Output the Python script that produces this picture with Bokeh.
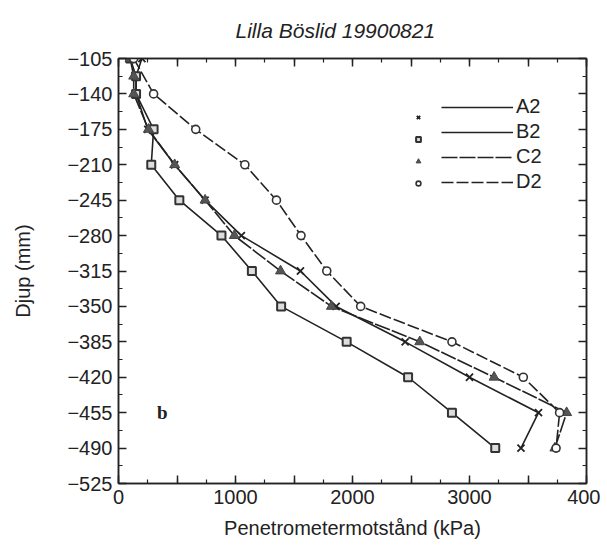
from bokeh.plotting import figure
from bokeh.models import (FixedTicker, LinearAxis, Legend, LegendItem, Label,
                          Range1d, Title)
from bokeh.embed import file_html
from bokeh.resources import INLINE

# ---- data (kPa vs depth mm) ----
depth_abc = [-105, -122.5, -140, -175, -210, -245, -280, -315, -350, -385, -420, -455, -490]
depth_d = [-105, -140, -175, -210, -245, -280, -315, -350, -385, -420, -455, -490]

a2 = [200, 150, 150, 250, 480, 740, 1050, 1555, 1860, 2450, 3000, 3590, 3440]
b2 = [100, 150, 150, 300, 280, 520, 880, 1140, 1390, 1950, 2475, 2850, 3220]
c2 = [100, 130, 130, 256, 480, 740, 990, 1385, 1820, 2575, 3210, 3830, 3730]
d2 = [130, 300, 660, 1080, 1350, 1560, 1780, 2070, 2850, 3460, 3770, 3740]

series_names = ["A2", "B2", "C2", "D2"]
title_text = "Lilla Böslid 19900821"

x_ticks = [0, 500, 1000, 1500, 2000, 2500, 3000, 3500, 4000]
x_minor = [250 * i for i in range(17)]
x_labels = {0: "0", 500: "", 1000: "1000", 1500: "", 2000: "2000", 2500: "",
            3000: "3000", 3500: "", 4000: "400"}
y_ticks = [-105, -140, -175, -210, -245, -280, -315, -350, -385, -420, -455, -490, -525]
y_minor = [-105 - 17.5 * i for i in range(25)]

FONT = "Liberation Sans"

p = figure(frame_width=468, frame_height=425,
           x_range=Range1d(0, 4000), y_range=Range1d(-525, -105),
           output_backend="svg", toolbar_location=None,
           min_border_left=118, min_border_right=14,
           min_border_top=58, min_border_bottom=56)
p.title = Title(text=title_text, text_font=FONT, text_font_size="21px",
                text_font_style="italic", text_color="#222222", align="left",
                vertical_align="top", standoff=30, offset=117)
p.xgrid.visible = False
p.ygrid.visible = False
p.outline_line_color = "#222222"
p.outline_line_width = 1.5
p.background_fill_color = "white"
p.border_fill_color = "white"


def style_axis(ax, ticks, minor, show_labels):
    ax.ticker = FixedTicker(ticks=ticks, minor_ticks=minor)
    ax.major_tick_in = 8
    ax.major_tick_out = 0
    ax.minor_tick_in = 4
    ax.minor_tick_out = 0
    ax.axis_line_color = "#222222"
    ax.axis_line_width = 1.5
    ax.major_tick_line_color = "#222222"
    ax.major_tick_line_width = 1.5
    ax.minor_tick_line_color = "#222222"
    ax.minor_tick_line_width = 1.2
    ax.major_label_text_font = FONT
    ax.major_label_text_font_size = "20px"
    ax.major_label_text_color = "#222222"
    if not show_labels:
        ax.major_label_overrides = {t: "" for t in ticks}
        ax.major_label_standoff = 0


xa = p.xaxis[0]
style_axis(xa, x_ticks, x_minor, True)
xa.major_label_overrides = x_labels
xa.major_label_standoff = 6
xa.axis_label = "Penetrometermotstånd (kPa)"
xa.axis_label_text_font = FONT
xa.axis_label_text_font_size = "20px"
xa.axis_label_text_font_style = "normal"
xa.axis_label_text_color = "#222222"
xa.axis_label_standoff = 10

ya = p.yaxis[0]
style_axis(ya, y_ticks, y_minor, True)
ya.major_label_standoff = 6
ya.axis_label = "Djup (mm)"
ya.axis_label_text_font = FONT
ya.axis_label_text_font_size = "20px"
ya.axis_label_text_font_style = "normal"
ya.axis_label_text_color = "#222222"
ya.axis_label_standoff = 30

top_ax = LinearAxis()
style_axis(top_ax, x_ticks, x_minor, False)
p.add_layout(top_ax, "above")
right_ax = LinearAxis()
style_axis(right_ax, y_ticks, y_minor, False)
p.add_layout(right_ax, "right")

col = "#222222"
la = p.line(a2, depth_abc, line_color=col, line_width=1.6)
lb = p.line(b2, depth_abc, line_color=col, line_width=1.6)
lc = p.line(c2, depth_abc, line_color=col, line_width=1.6, line_dash="16 2")
ld = p.line(d2, depth_d, line_color=col, line_width=1.6, line_dash="12 3")

ma = p.scatter(a2, depth_abc, marker="x", size=10, line_color=col, line_width=1.8)
mb = p.scatter(b2, depth_abc, marker="square", size=8, fill_color="#dddddd",
               line_color="#333333", line_width=2)
mc = p.scatter(c2, depth_abc, marker="triangle", size=10, fill_color="#555555",
               line_color="#444444", line_width=1)
md = p.scatter(d2, depth_d, marker="circle", size=8, fill_color="white",
               line_color="#333333", line_width=1.6)

# legend: markers (left) and lines with labels (right)
leg_m = Legend(items=[LegendItem(label=" ", renderers=[r]) for r in (ma, mb, mc, md)],
               location=(294, 290), glyph_width=12, glyph_height=20, label_height=20,
               label_width=1, label_standoff=0, spacing=2, padding=0, margin=0,
               border_line_color=None, background_fill_alpha=0,
               label_text_font=FONT, label_text_font_size="20px")
leg_l = Legend(items=[LegendItem(label=n, renderers=[r]) for n, r in zip(series_names, (la, lb, lc, ld))],
               location=(323, 290), glyph_width=72, glyph_height=20, label_height=20,
               label_standoff=3, spacing=2, padding=0, margin=0,
               border_line_color=None, background_fill_alpha=0,
               label_text_font=FONT, label_text_font_size="20px", label_text_color="#222222")
p.add_layout(leg_m)
p.add_layout(leg_l)

p.add_layout(Label(x=330, y=-455, text="b", text_font="Liberation Serif",
                   text_font_size="19px", text_font_style="bold", text_color="#222222",
                   text_baseline="middle"))

open("out.html", "w").write(file_html(p, INLINE))
